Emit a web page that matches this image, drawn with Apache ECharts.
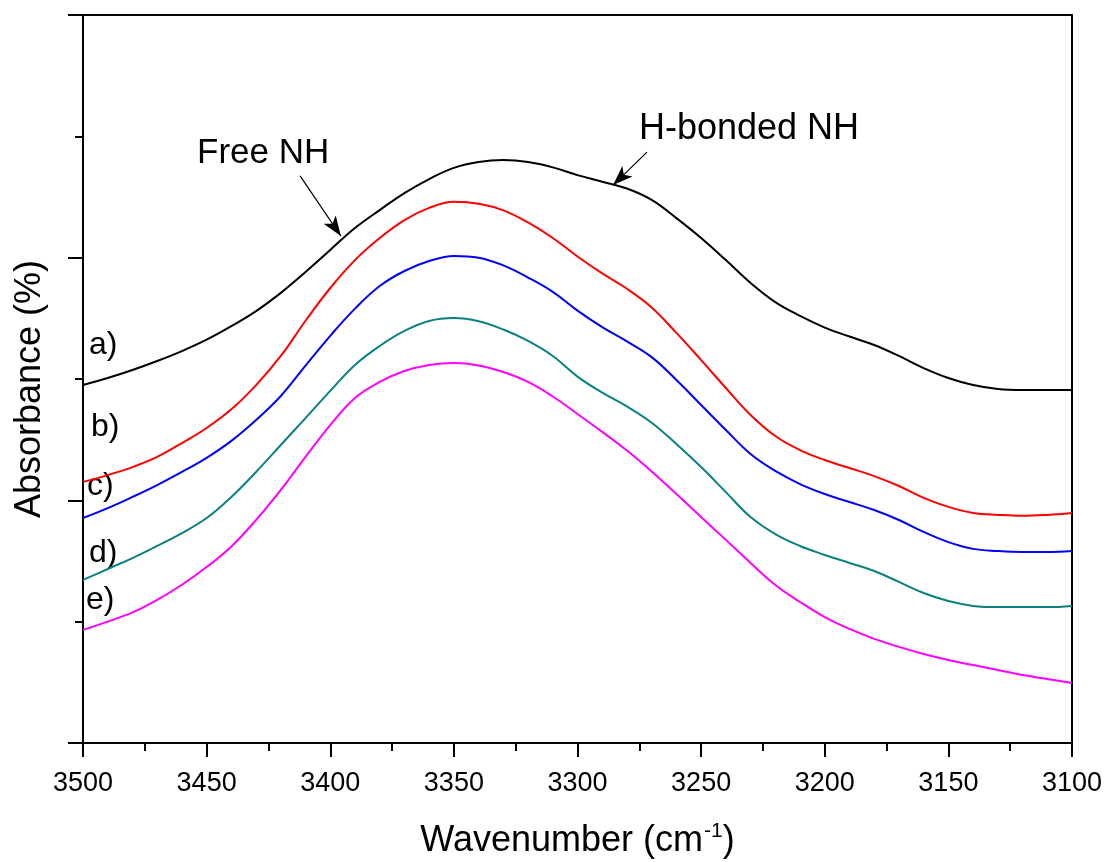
<!DOCTYPE html>
<html><head><meta charset="utf-8">
<script src="https://cdn.jsdelivr.net/npm/echarts@6/dist/echarts.min.js"></script>
<style>html,body{margin:0;padding:0;background:#fff}#c{width:1107px;height:862px}</style>
</head><body><div id="c"></div>
<script>
const wavenumbers = [3500,3490,3480,3470,3460,3450,3440,3430,3420,3410,3400,3390,3380,3370,3360,3350,3340,3330,3320,3310,3300,3290,3280,3270,3260,3250,3240,3230,3220,3210,3200,3190,3180,3170,3160,3150,3140,3130,3120,3110,3100];
const curveA = [14.75,15.04,15.37,15.74,16.15,16.62,17.18,17.80,18.55,19.41,20.32,21.22,21.96,22.66,23.24,23.70,23.94,24.02,23.94,23.72,23.40,23.13,22.85,22.38,21.63,20.81,19.90,18.96,18.17,17.60,17.12,16.75,16.40,15.95,15.45,15.04,14.75,14.59,14.55,14.55,14.55];
const curveB = [10.76,11.04,11.37,11.79,12.36,12.98,13.75,14.75,15.95,17.40,18.75,19.90,20.81,21.55,22.05,22.30,22.22,21.95,21.45,20.81,20.05,19.35,18.72,17.95,16.90,15.78,14.63,13.52,12.65,12.07,11.66,11.33,11.00,10.59,10.10,9.73,9.48,9.40,9.36,9.40,9.48];
const curveC = [9.27,9.68,10.14,10.63,11.17,11.75,12.45,13.31,14.30,15.55,16.78,17.90,18.83,19.45,19.86,20.07,20.00,19.68,19.18,18.59,17.82,17.14,16.55,15.90,14.96,13.93,12.90,11.91,11.21,10.67,10.26,9.93,9.60,9.19,8.70,8.28,8.00,7.91,7.87,7.87,7.91];
const curveD = [6.72,7.17,7.62,8.12,8.65,9.27,10.14,11.17,12.28,13.39,14.51,15.58,16.36,16.98,17.39,17.51,17.38,17.04,16.57,15.95,15.10,14.44,13.87,13.20,12.32,11.37,10.34,9.31,8.61,8.12,7.75,7.42,7.09,6.64,6.18,5.85,5.65,5.60,5.60,5.60,5.65];
const curveE = [4.66,5.00,5.38,5.90,6.52,7.25,8.10,9.19,10.43,11.79,13.10,14.22,14.88,15.33,15.58,15.66,15.56,15.29,14.88,14.28,13.56,12.82,12.05,11.19,10.26,9.31,8.37,7.42,6.51,5.81,5.19,4.70,4.29,3.96,3.67,3.42,3.21,3.01,2.80,2.64,2.47];
const curveNames = ['a)','b)','c)','d)','e)'];
const curveColors = ['#000000','#ff0000','#0000ff','#0a8080','#ff00ff'];
const xTickLabels = [3500,3450,3400,3350,3300,3250,3200,3150,3100];
const annotations = [
  {text:'Free NH', from:[3412.2,23.37], to:[3395.7,20.89]},
  {text:'H-bonded NH', from:[3271.9,24.35], to:[3285.6,22.99]}
];

const FONT = '"Liberation Sans", Arial, Helvetica, sans-serif';
const chart = echarts.init(document.getElementById('c'));
const curves = [curveA, curveB, curveC, curveD, curveE];

const series = curves.map((vals, i) => ({
  name: curveNames[i],
  type: 'line',
  data: wavenumbers.map((w, j) => [w, vals[j]]),
  smooth: 0.4,
  showSymbol: false,
  symbol: 'none',
  lineStyle: {color: curveColors[i], width: 2},
  itemStyle: {color: curveColors[i]},
  silent: true,
  z: 3
}));

series.push({
  type: 'line', data: [], silent: true,
  markLine: {
    silent: true,
    symbol: ['none', 'arrow'],
    symbolSize: [11, 20],
    label: {show: false},
    lineStyle: {color: '#000', width: 1.2, type: 'solid'},
    data: annotations.map(a => [{coord: a.from}, {coord: a.to}])
  }
});

const labelPos = [[89,347],[91,429],[87,488],[89,555],[86,602]];
const graphics = curveNames.map((t, i) => ({
  type: 'text', left: labelPos[i][0], top: labelPos[i][1] - 18,
  style: {text: t, font: '32px ' + FONT, fill: '#000'}
}));
graphics.push({type:'text', left:197, top:136, style:{text: annotations[0].text, font:'35px ' + FONT, fill:'#000'}});
graphics.push({type:'text', left:639, top:111, style:{text: annotations[1].text, font:'36px ' + FONT, fill:'#000'}});
graphics.push({type:'text', x:30, y:389, rotation: Math.PI/2,
  style:{text:'Absorbance (%)', font:'36px ' + FONT, fill:'#000', align:'center', verticalAlign:'middle'}});

chart.setOption({
  animation: false,
  backgroundColor: '#fff',
  grid: {left: 83, right: 35, top: 15, bottom: 119, outerBoundsMode: 'none', containLabel: false,
    show: true, borderColor: '#000', borderWidth: 2, backgroundColor: 'transparent'},
  xAxis: {
    type: 'value', min: 3100, max: 3500, interval: 50, inverse: true,
    axisLine: {show: true, onZero: false, lineStyle: {color: '#000', width: 2}},
    axisTick: {show: true, inside: false, length: 14, lineStyle: {color: '#000', width: 2}},
    minorTick: {show: true, splitNumber: 2, length: 8, lineStyle: {color: '#000', width: 2}},
    splitLine: {show: false}, minorSplitLine: {show: false},
    axisLabel: {show: true, color: '#000', fontSize: 27, fontFamily: FONT, margin: 27,
      formatter: v => xTickLabels.includes(v) ? String(v) : '', showMinLabel: true, showMaxLabel: true},
    name: '{n|Wavenumber (cm}{s|-1}{n|)}',
    nameLocation: 'middle', nameGap: 78,
    nameTextStyle: {color: '#000', fontFamily: FONT,
      rich: {n: {fontSize: 36, fontFamily: FONT, color: '#000'}, s: {fontSize: 21, fontFamily: FONT, color: '#000', padding: [0, 0, 20, 1]}}}
  },
  yAxis: {
    type: 'value', min: 0, max: 30, interval: 10,
    axisLine: {show: true, onZero: false, lineStyle: {color: '#000', width: 2}},
    axisTick: {show: true, inside: false, length: 15, lineStyle: {color: '#000', width: 2}},
    minorTick: {show: true, splitNumber: 2, length: 8, lineStyle: {color: '#000', width: 2}},
    splitLine: {show: false}, minorSplitLine: {show: false},
    axisLabel: {show: false}
  },
  graphic: graphics,
  series: series
});
</script></body></html>
